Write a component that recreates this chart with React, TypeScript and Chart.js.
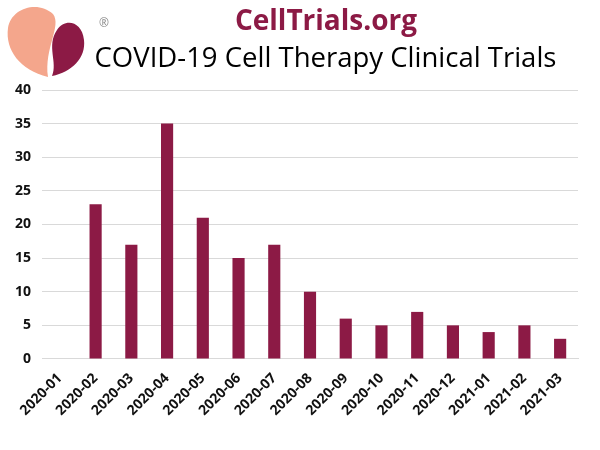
import { useRef, useEffect } from "react";
import Chart from "chart.js/auto";
import type { Chart as ChartJS } from "chart.js";

const months = [
  "2020-01", "2020-02", "2020-03", "2020-04", "2020-05",
  "2020-06", "2020-07", "2020-08", "2020-09", "2020-10",
  "2020-11", "2020-12", "2021-01", "2021-02", "2021-03",
];
const trials = [0, 23, 17, 35, 21, 15, 17, 10, 6, 5, 7, 5, 4, 5, 3];

const maroon = "#8c1a45";
const peach = "#f4a68c";

export default function App() {
  const chartRef = useRef<HTMLCanvasElement | null>(null);
  const chartInstance = useRef<ChartJS | null>(null);

  useEffect(() => {
    document.body.style.margin = "0";
    if (!chartRef.current) return;
    if (chartInstance.current) chartInstance.current.destroy();

    chartInstance.current = new Chart(chartRef.current, {
      type: "bar",
      data: {
        labels: months,
        datasets: [
          {
            data: trials,
            backgroundColor: maroon,
            barPercentage: 0.68,
            categoryPercentage: 0.5,
          },
        ],
      },
      options: {
        animation: false,
        responsive: false,
        layout: { padding: { top: 90, right: 22, bottom: 28, left: 4 } },
        plugins: { legend: { display: false }, tooltip: { enabled: false } },
        scales: {
          x: {
            grid: { display: false },
            border: { display: true, color: "#d9d9d9" },
            ticks: {
              minRotation: 45,
              maxRotation: 45,
              color: "#111",
              font: { family: "Open Sans", weight: "bold", size: 14 },
            },
          },
          y: {
            min: 0,
            max: 40,
            border: { display: false },
            grid: { color: "#d9d9d9", drawTicks: false },
            ticks: {
              stepSize: 5,
              padding: 11,
              color: "#111",
              font: { family: "Open Sans", weight: "bold", size: 14 },
            },
          },
        },
      },
    });

    return () => chartInstance.current?.destroy();
  }, []);

  return (
    <div style={{ position: "relative", width: 600, height: 450, background: "#fff" }}>
      <canvas ref={chartRef} width={600} height={450} style={{ position: "absolute", left: 0, top: 0 }} />
      <svg width={90} height={82} style={{ position: "absolute", left: 0, top: 0 }}>
        <path d="M48,77 C20,70 5,50 8,28 C11,8 38,0 53,14 C62,26 44,48 48,77 Z" fill={peach} />
        <path d="M52,76 C58,62 46,46 57,30 C65,18 82,21 84,40 C86,58 72,72 52,76 Z" fill={maroon} />
      </svg>
      <div
        style={{
          position: "absolute", left: 99, top: 14, fontSize: 12,
          color: "#888", fontFamily: "Open Sans",
        }}
      >
        ®
      </div>
      <div
        style={{
          position: "absolute", left: 0, width: 652, top: 0, textAlign: "center",
          fontFamily: "Open Sans", fontWeight: "bold", fontSize: 28, color: maroon,
        }}
      >
        CellTrials.org
      </div>
      <div
        style={{
          position: "absolute", left: 0, width: 651, top: 38, textAlign: "center",
          fontFamily: "Open Sans", fontSize: 27.5, color: "#000", whiteSpace: "nowrap",
        }}
      >
        COVID-19 Cell Therapy Clinical Trials
      </div>
    </div>
  );
}
